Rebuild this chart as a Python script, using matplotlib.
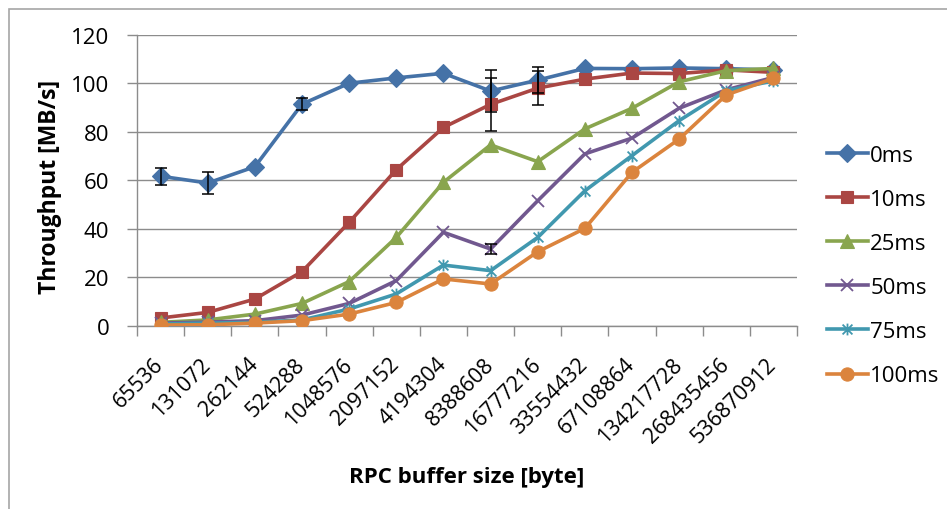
import matplotlib
matplotlib.use("Agg")
import matplotlib.pyplot as plt
import matplotlib.transforms as mtransforms
import numpy as np
from matplotlib.path import Path
from matplotlib.patches import Rectangle

plt.rcParams["font.family"] = ["Open Sans", "DejaVu Sans"]

buffer_sizes = ["65536", "131072", "262144", "524288", "1048576", "2097152",
                "4194304", "8388608", "16777216", "33554432", "67108864",
                "134217728", "268435456", "536870912"]

t_0ms = [61.7, 58.9, 65.6, 91.4, 100.0, 102.2, 104.1, 96.8, 101.3, 106.1, 106.0, 106.3, 106.0, 105.5]
t_10ms = [3.3, 5.6, 11.1, 22.4, 42.7, 64.4, 81.8, 91.3, 98.0, 101.7, 104.2, 104.0, 105.5, 104.5]
t_25ms = [1.5, 2.5, 4.9, 9.3, 18.3, 36.5, 59.2, 74.6, 67.7, 81.2, 89.7, 100.6, 105.2, 106.1]
t_50ms = [1.2, 1.6, 2.2, 4.5, 9.3, 18.7, 38.6, 31.7, 51.6, 70.9, 77.4, 89.7, 97.3, 102.4]
t_75ms = [0.8, 1.2, 1.5, 2.5, 7.0, 13.2, 25.1, 22.8, 36.5, 55.7, 70.2, 84.6, 96.9, 101.0]
t_100ms = [0.4, 0.5, 1.2, 2.2, 4.9, 9.7, 19.4, 17.3, 30.6, 40.2, 63.3, 77.0, 95.2, 102.0]

# standard deviations (0 where no bar is drawn)
err_0ms = [3.5, 4.4, 0, 2.4, 0, 0, 0, 8.8, 5.3, 0, 0, 0, 0, 0]
err_10ms = [0, 0, 0, 0, 0, 0, 0, 11.0, 7.0, 0, 0, 0, 0, 0]
err_50ms = [0, 0, 0, 0, 0, 0, 0, 2.0, 0, 0, 0, 0, 0, 0]

labels = ["0ms", "10ms", "25ms", "50ms", "75ms", "100ms"]
colors = ["#4572A7", "#AA4643", "#89A54E", "#71588F", "#4198AF", "#DB843D"]

# Excel-style star marker: an "x" with a vertical stroke
star = Path([(-1, -1), (1, 1), (-1, 1), (1, -1), (0, -1.2), (0, 1.2)],
            [Path.MOVETO, Path.LINETO, Path.MOVETO, Path.LINETO, Path.MOVETO, Path.LINETO])

series = [
    (t_0ms, err_0ms, "D", 9),
    (t_10ms, err_10ms, "s", 9),
    (t_25ms, None, "^", 9.5),
    (t_50ms, err_50ms, "x", 8.5),
    (t_75ms, None, star, 8.5),
    (t_100ms, None, "o", 9.5),
]

fig = plt.figure(figsize=(9.47, 5.10), dpi=100)
ax = fig.add_axes([137 / 947, 1 - 327 / 510, (797 - 137) / 947, (327 - 35.7) / 510])

x = np.arange(len(buffer_sizes))
handles = []
for i, ((vals, err, mk, ms), lab, col) in enumerate(zip(series, labels, colors)):
    hollow = mk in ("x",) or mk is star
    h, = ax.plot(x, vals, color=col, lw=2.6, marker=mk, markersize=ms,
                 markeredgewidth=1.3 if hollow else 0.8,
                 markeredgecolor=col, markerfacecolor=col,
                 label=lab, zorder=3 + i, solid_joinstyle="round")
    handles.append(h)
    if err is not None:
        e = np.array(err)
        m = e > 0
        ax.errorbar(x[m], np.array(vals)[m], yerr=e[m], fmt="none",
                    ecolor="black", elinewidth=1.1, capsize=4, capthick=1.1,
                    zorder=10)

ax.set_xlim(-0.5, len(buffer_sizes) - 0.5)
ax.set_ylim(0, 120)
ax.set_yticks(np.arange(0, 121, 20))
ax.yaxis.grid(True, color="#8c8c8c", lw=1.0)
ax.set_axisbelow(True)

for s in ("top", "right"):
    ax.spines[s].set_visible(False)
for s in ("left", "bottom"):
    ax.spines[s].set_color("#8c8c8c")
    ax.spines[s].set_linewidth(1.0)

ax.set_xticks(x)
ax.set_xticklabels(buffer_sizes, rotation=45, ha="right", va="center",
                   rotation_mode="anchor", fontsize=15.5)
shift = mtransforms.ScaledTranslation(4 / 100, 0, fig.dpi_scale_trans)
for t in ax.get_xticklabels():
    t.set_transform(t.get_transform() + shift)
ax.tick_params(axis="x", which="major", length=0, pad=25)
ax.set_xticks(np.arange(-0.5, len(buffer_sizes)), minor=True)
ax.tick_params(axis="x", which="minor", length=7, color="#8c8c8c", width=1.0, direction="out")
ax.tick_params(axis="y", length=7, color="#8c8c8c", width=1.0, direction="out",
               labelsize=16, pad=13)

fig.text(50 / 947, 1 - 187 / 510, "Throughput [MB/s]", rotation=90,
         ha="center", va="center", fontsize=16.5, fontweight="bold")
fig.text(467 / 947, 1 - 478 / 510, "RPC buffer size [byte]",
         ha="center", va="center", fontsize=16, fontweight="bold")

fig.legend(handles=handles, loc="center left",
           bbox_to_anchor=(818 / 947, 1 - 266.5 / 510), frameon=False,
           fontsize=16, handlelength=1.85, handletextpad=0.1,
           labelspacing=1.04, borderaxespad=0)

fig.patches.append(Rectangle((9 / 947, -0.2), 1.2, 1 - 10 / 510 + 0.2,
                             transform=fig.transFigure, fill=False,
                             edgecolor="#a6a6a6", lw=1.2))

fig.savefig("out.png", dpi=100)
